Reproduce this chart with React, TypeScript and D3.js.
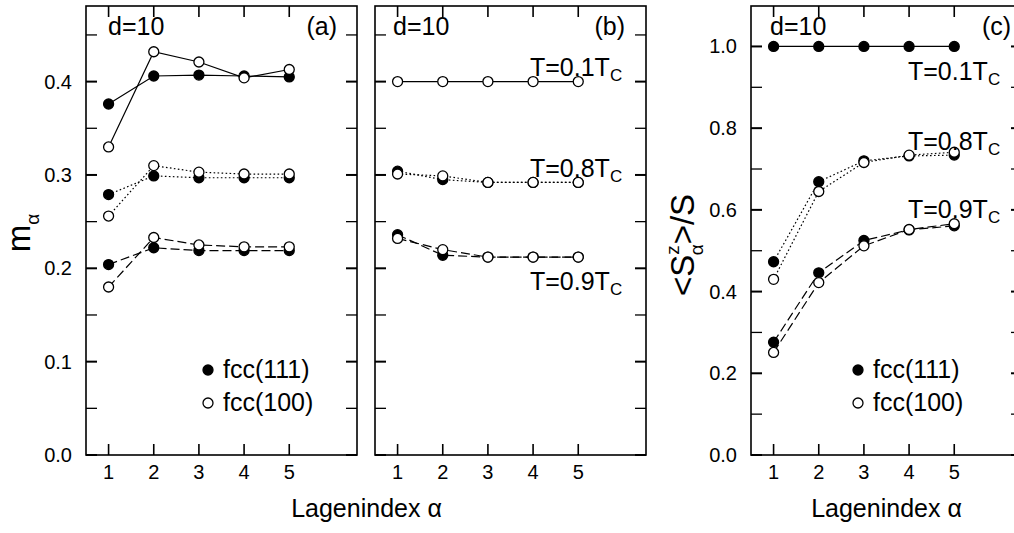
import React from "react";
import * as d3 from "d3";

// Layer index α on the x axis
const layers = [1, 2, 3, 4, 5];

// Panel (a): layer magnetisation m_α
const a111_T01 = [0.376, 0.406, 0.407, 0.406, 0.405];
const a100_T01 = [0.330, 0.432, 0.421, 0.404, 0.413];
const a111_T08 = [0.279, 0.299, 0.297, 0.297, 0.297];
const a100_T08 = [0.256, 0.310, 0.303, 0.301, 0.301];
const a111_T09 = [0.204, 0.222, 0.219, 0.219, 0.219];
const a100_T09 = [0.180, 0.233, 0.225, 0.223, 0.223];

// Panel (b): m_α for the three temperatures
const b100_T01 = [0.400, 0.400, 0.400, 0.400, 0.400];
const b111_T08 = [0.304, 0.295, 0.292, 0.292, 0.292];
const b100_T08 = [0.301, 0.299, 0.292, 0.292, 0.292];
const b111_T09 = [0.236, 0.214, 0.212, 0.212, 0.212];
const b100_T09 = [0.232, 0.220, 0.212, 0.212, 0.212];

// Panel (c): normalised layer spin <S^z_α>/S
const c111_T01 = [1.0, 1.0, 1.0, 1.0, 1.0];
const c111_T08 = [0.473, 0.669, 0.720, 0.732, 0.734];
const c100_T08 = [0.430, 0.645, 0.716, 0.734, 0.741];
const c111_T09 = [0.276, 0.446, 0.525, 0.551, 0.561];
const c100_T09 = [0.251, 0.422, 0.512, 0.552, 0.566];

// Tick values
const mMajor = [0.0, 0.1, 0.2, 0.3, 0.4];
const mMinor = [0.05, 0.15, 0.25, 0.35, 0.45];
const sMajor = [0.0, 0.2, 0.4, 0.6, 0.8, 1.0];
const sMinor = [0.1, 0.3, 0.5, 0.7, 0.9];

const legendLabels = ["fcc(111)", "fcc(100)"];
const tempLabels = ["0.1", "0.8", "0.9"];

type Style = "solid" | "dotted" | "dashed";
type Series = { values: number[]; filled: boolean; style: Style };

const dashFor: Record<Style, string | undefined> = {
  solid: undefined,
  dotted: "1.6,2.4",
  dashed: "9,4",
};

const FONT = "Arial, 'Liberation Sans', Helvetica, sans-serif";
const TOP = 6;
const BOTTOM = 455;
const W = 271;
const TICK = 11;
const fmt = d3.format(".1f");

function Panel({
  left,
  yMax,
  major,
  minor,
  showYLabels,
  series,
}: {
  left: number;
  yMax: number;
  major: number[];
  minor: number[];
  showYLabels: boolean;
  series: Series[];
}) {
  const right = left + W;
  const x = d3.scaleLinear().domain([0.5, 6.5]).range([left, right]);
  const y = d3.scaleLinear().domain([0, yMax]).range([BOTTOM, TOP]);
  const line = d3
    .line<number>()
    .x((_, i) => x(layers[i]))
    .y((v) => y(v));
  const filled = series.filter((s) => s.filled);
  const open = series.filter((s) => !s.filled);
  return (
    <g>
      {/* connecting lines */}
      {series.map((s, i) => (
        <path
          key={"l" + i}
          d={line(s.values) || ""}
          fill="none"
          stroke="#000"
          strokeWidth={1.2}
          strokeDasharray={dashFor[s.style]}
        />
      ))}
      {/* symbols: filled first, open on top */}
      {[...filled, ...open].map((s, i) =>
        s.values.map((v, j) => (
          <circle
            key={"c" + i + "-" + j}
            cx={x(layers[j])}
            cy={y(v)}
            r={5}
            fill={s.filled ? "#000" : "#fff"}
            stroke="#000"
            strokeWidth={1.3}
          />
        ))
      )}
      {/* frame */}
      <rect
        x={left}
        y={TOP}
        width={W}
        height={BOTTOM - TOP}
        fill="none"
        stroke="#000"
        strokeWidth={1.6}
      />
      {/* x ticks (top and bottom, inward) */}
      {layers.map((t) => (
        <g key={"xt" + t}>
          <line x1={x(t)} x2={x(t)} y1={BOTTOM} y2={BOTTOM - TICK} stroke="#000" strokeWidth={1.6} />
          <line x1={x(t)} x2={x(t)} y1={TOP} y2={TOP + TICK} stroke="#000" strokeWidth={1.6} />
          <text x={x(t)} y={479} textAnchor="middle" fontFamily={FONT} fontSize={20}>
            {t}
          </text>
        </g>
      ))}
      {/* y ticks (left and right, inward) */}
      {major.map((t) => (
        <g key={"ym" + t}>
          <line x1={left} x2={left + TICK} y1={y(t)} y2={y(t)} stroke="#000" strokeWidth={2} />
          <line x1={right} x2={right - TICK} y1={y(t)} y2={y(t)} stroke="#000" strokeWidth={2} />
          {showYLabels && (
            <text
              x={left - 14}
              y={y(t) + 7}
              textAnchor="end"
              fontFamily={FONT}
              fontSize={20}
            >
              {fmt(t)}
            </text>
          )}
        </g>
      ))}
      {minor.map((t) => (
        <g key={"yn" + t}>
          <line x1={left} x2={left + TICK} y1={y(t)} y2={y(t)} stroke="#000" strokeWidth={1.3} />
          <line x1={right} x2={right - TICK} y1={y(t)} y2={y(t)} stroke="#000" strokeWidth={1.3} />
        </g>
      ))}
    </g>
  );
}

function TLabel({ x, y, t }: { x: number; y: number; t: string }) {
  return (
    <text x={x} y={y} fontFamily={FONT} fontSize={25}>
      {`T=${t}T`}
      <tspan fontSize={17} dy={5}>
        C
      </tspan>
    </text>
  );
}

function Legend({ x, y }: { x: number; y: number }) {
  return (
    <g fontFamily={FONT} fontSize={25}>
      <circle cx={x} cy={y} r={5} fill="#000" stroke="#000" strokeWidth={1.3} />
      <text x={x + 15} y={y + 8}>
        {legendLabels[0]}
      </text>
      <circle cx={x} cy={y + 33} r={5} fill="#fff" stroke="#000" strokeWidth={1.3} />
      <text x={x + 15} y={y + 41}>
        {legendLabels[1]}
      </text>
    </g>
  );
}

export default function App() {
  const seriesA: Series[] = [
    { values: a111_T01, filled: true, style: "solid" },
    { values: a100_T01, filled: false, style: "solid" },
    { values: a111_T08, filled: true, style: "dotted" },
    { values: a100_T08, filled: false, style: "dotted" },
    { values: a111_T09, filled: true, style: "dashed" },
    { values: a100_T09, filled: false, style: "dashed" },
  ];
  const seriesB: Series[] = [
    { values: b100_T01, filled: false, style: "solid" },
    { values: b111_T08, filled: true, style: "dotted" },
    { values: b100_T08, filled: false, style: "dotted" },
    { values: b111_T09, filled: true, style: "dashed" },
    { values: b100_T09, filled: false, style: "dashed" },
  ];
  const seriesC: Series[] = [
    { values: c111_T01, filled: true, style: "solid" },
    { values: c111_T08, filled: true, style: "dotted" },
    { values: c100_T08, filled: false, style: "dotted" },
    { values: c111_T09, filled: true, style: "dashed" },
    { values: c100_T09, filled: false, style: "dashed" },
  ];
  const mMax = 0.481;
  const sMax = 1.099;
  return (
    <svg
      width={1014}
      height={533}
      style={{ position: "absolute", left: 0, top: 0, background: "#fff" }}
    >
      <rect width={1014} height={533} fill="#fff" />
      <Panel left={86} yMax={mMax} major={mMajor} minor={mMinor} showYLabels series={seriesA} />
      <Panel left={375} yMax={mMax} major={mMajor} minor={mMinor} showYLabels={false} series={seriesB} />
      <Panel left={751} yMax={sMax} major={sMajor} minor={sMinor} showYLabels series={seriesC} />

      {/* panel captions */}
      <g fontFamily={FONT} fontSize={25}>
        <text x={108} y={35}>d=10</text>
        <text x={337} y={35} textAnchor="end">(a)</text>
        <text x={393} y={35}>d=10</text>
        <text x={625} y={35} textAnchor="end">(b)</text>
        <text x={770} y={35}>d=10</text>
        <text x={982} y={35}>(c)</text>
      </g>

      <TLabel x={530} y={76} t={tempLabels[0]} />
      <TLabel x={530} y={177} t={tempLabels[1]} />
      <TLabel x={530} y={290} t={tempLabels[2]} />
      <TLabel x={908} y={80} t={tempLabels[0]} />
      <TLabel x={908} y={150} t={tempLabels[1]} />
      <TLabel x={908} y={218} t={tempLabels[2]} />

      <Legend x={208} y={370} />
      <Legend x={858} y={370} />

      {/* axis titles */}
      <g fontFamily={FONT}>
        <text x={366.5} y={517} textAnchor="middle" fontSize={25}>
          Lagenindex α
        </text>
        <text x={886.5} y={517} textAnchor="middle" fontSize={25}>
          Lagenindex α
        </text>
        <text transform="translate(30,233) rotate(-90)" textAnchor="middle" fontSize={33}>
          m
          <tspan fontSize={19} dy={9}>
            α
          </tspan>
        </text>
        <text transform="translate(694,245) rotate(-90)" textAnchor="middle" fontSize={33}>
          {"<S"}
          <tspan fontSize={19} dy={-15}>
            z
          </tspan>
          <tspan fontSize={19} dx={-10} dy={24}>
            α
          </tspan>
          <tspan dy={-9}>{">/S"}</tspan>
        </text>
      </g>
    </svg>
  );
}
